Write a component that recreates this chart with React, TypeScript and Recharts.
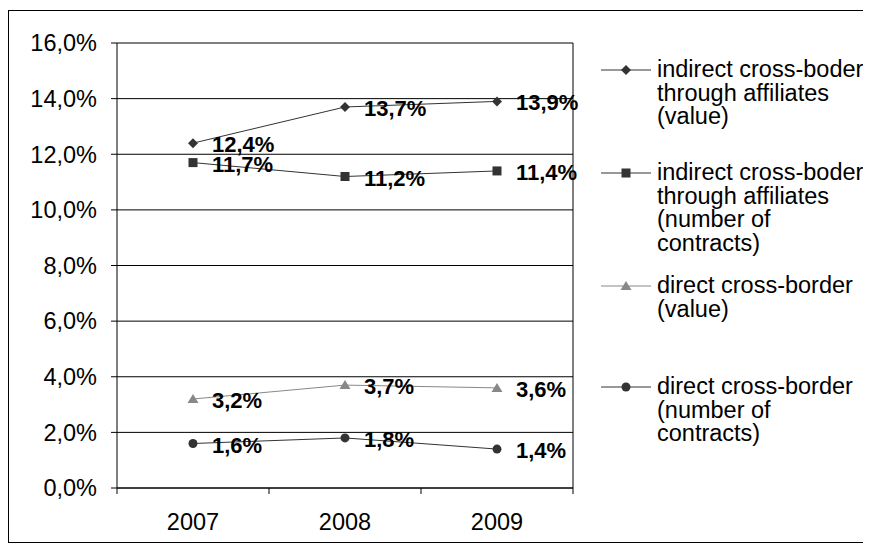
import React from 'react';
import { LineChart, Line, XAxis, YAxis, CartesianGrid, LabelList } from 'recharts';

const YEARS = ['2007', '2008', '2009'];
const INDIRECT_VALUE = [12.4, 13.7, 13.9];
const INDIRECT_CONTRACTS = [11.7, 11.2, 11.4];
const DIRECT_VALUE = [3.2, 3.7, 3.6];
const DIRECT_CONTRACTS = [1.6, 1.8, 1.4];
const Y_TICKS = [0, 2, 4, 6, 8, 10, 12, 14, 16];

const FONT = '"Liberation Sans", Arial, sans-serif';

type MarkerKind = 'diamond' | 'square' | 'triangle' | 'circle';

interface SeriesDef {
  key: string;
  lines: string[];
  color: string;
  marker: MarkerKind;
}

const SERIES: SeriesDef[] = [
  { key: 'indirectValue', lines: ['indirect cross-boder', 'through affiliates', '(value)'], color: '#333333', marker: 'diamond' },
  { key: 'indirectContracts', lines: ['indirect cross-boder', 'through affiliates', '(number of', 'contracts)'], color: '#333333', marker: 'square' },
  { key: 'directValue', lines: ['direct cross-border', '(value)'], color: '#888888', marker: 'triangle' },
  { key: 'directContracts', lines: ['direct cross-border', '(number of', 'contracts)'], color: '#333333', marker: 'circle' },
];

// legend entries sit at uneven heights beside the plot
const LEGEND_TOPS = [47, 150, 263, 364];

const data = YEARS.map((year, i) => ({
  year,
  indirectValue: INDIRECT_VALUE[i],
  indirectContracts: INDIRECT_CONTRACTS[i],
  directValue: DIRECT_VALUE[i],
  directContracts: DIRECT_CONTRACTS[i],
}));

const pct = (v: number) => `${v.toFixed(1).replace('.', ',')}%`;

const Marker = ({ kind, cx, cy, fill }: { kind: MarkerKind; cx: number; cy: number; fill: string }) => {
  switch (kind) {
    case 'diamond':
      return <polygon points={`${cx},${cy - 5} ${cx + 5},${cy} ${cx},${cy + 5} ${cx - 5},${cy}`} fill={fill} />;
    case 'square':
      return <rect x={cx - 4.5} y={cy - 4.5} width={9} height={9} fill={fill} />;
    case 'triangle':
      return <polygon points={`${cx},${cy - 5} ${cx + 5.5},${cy + 4} ${cx - 5.5},${cy + 4}`} fill={fill} />;
    default:
      return <circle cx={cx} cy={cy} r={4.5} fill={fill} />;
  }
};

// category ticks go on the band edges, labels in the middle
const YearTick = (props: any) => {
  const { x, y, payload, index, visibleTicksCount } = props;
  const half = payload?.offset ?? 76;
  const last = index === (visibleTicksCount ?? YEARS.length) - 1;
  return (
    <g>
      <line x1={x - half} y1={y} x2={x - half} y2={y + 6} stroke="#000" />
      {last && <line x1={x + half} y1={y} x2={x + half} y2={y + 6} stroke="#000" />}
      <text x={x} y={y + 42} textAnchor="middle" fontSize={23.5} fontFamily={FONT} fill="#000">
        {payload.value}
      </text>
    </g>
  );
};

const ValueLabel = (props: any) => {
  const { x, y, value } = props;
  return (
    <text x={Number(x) + 19} y={Number(y) + 9} fontSize={22} fontWeight="bold" fontFamily={FONT} fill="#000">
      {pct(Number(value))}
    </text>
  );
};

const SideLegend = () => (
  <div style={{ position: 'absolute', left: 592, top: 0, fontFamily: FONT, fontSize: 23.5, color: '#000' }}>
    {SERIES.map((s, i) => (
      <div key={s.key} style={{ position: 'absolute', top: LEGEND_TOPS[i], left: 0, display: 'flex', alignItems: 'flex-start' }}>
        <svg width={50} height={24} style={{ flex: 'none' }}>
          <line x1={0} y1={12} x2={50} y2={12} stroke={s.color} strokeWidth={1} />
          <Marker kind={s.marker} cx={25} cy={12} fill={s.color} />
        </svg>
        <div style={{ marginLeft: 6, lineHeight: '23.5px', whiteSpace: 'nowrap' }}>
          {s.lines.map((t) => (
            <div key={t}>{t}</div>
          ))}
        </div>
      </div>
    ))}
  </div>
);

export default function App() {
  return (
    <div style={{ paddingTop: 2 }}>
      <div style={{ position: 'relative', width: 860, height: 531, border: '1px solid #000', background: '#fff' }}>
        <LineChart width={860} height={531} data={data} margin={{ top: 32, right: 295, bottom: 24, left: 0 }}>
          <CartesianGrid vertical={false} stroke="#000" />
          <XAxis
            dataKey="year"
            scale="band"
            axisLine={{ stroke: '#000' }}
            tickLine={false}
            tickSize={0}
            tickMargin={0}
            height={30}
            tick={<YearTick />}
            interval={0}
          />
          <YAxis
            domain={[0, 16]}
            ticks={Y_TICKS}
            width={108}
            axisLine={{ stroke: '#000' }}
            tickLine={{ stroke: '#000' }}
            tickSize={6}
            tickMargin={14}
            tickFormatter={pct}
            tick={{ fontSize: 23.5, fontFamily: FONT, fill: '#000' }}
            interval={0}
          />
          <YAxis
            yAxisId="frame"
            orientation="right"
            domain={[0, 16]}
            width={1}
            tick={false}
            tickLine={false}
            axisLine={{ stroke: '#000' }}
          />
          {SERIES.map((s) => (
            <Line
              key={s.key}
              dataKey={s.key}
              type="linear"
              stroke={s.color}
              strokeWidth={1}
              isAnimationActive={false}
              dot={(p: any) => <Marker key={`${s.key}-${p.index}`} kind={s.marker} cx={p.cx} cy={p.cy} fill={s.color} />}
              activeDot={false}
            >
              <LabelList dataKey={s.key} content={<ValueLabel />} />
            </Line>
          ))}
        </LineChart>
        <SideLegend />
      </div>
    </div>
  );
}
